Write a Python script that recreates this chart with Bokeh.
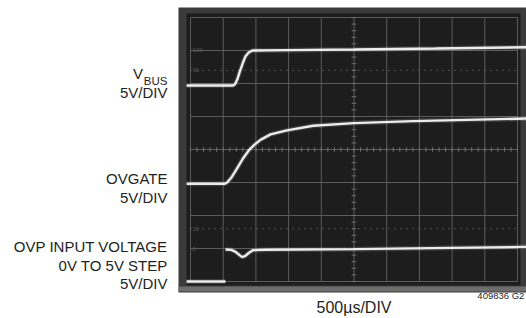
import numpy as np
from bokeh.plotting import figure
from bokeh.models import Range1d, BoxAnnotation, Label
from bokeh.embed import file_html
from bokeh.resources import INLINE

# Oscilloscope traces: time in divisions (500us/DIV), level in divisions (5V/DIV)
vbus_t = [-0.12, 1.30, 1.36, 1.43, 1.52, 1.60, 1.68, 1.78, 1.90, 3.0, 5.0, 7.5, 10.3]
vbus_v = [5.94, 5.94, 5.98, 6.12, 6.40, 6.62, 6.82, 6.94, 7.00, 7.01, 7.03, 7.06, 7.10]

ovgate_t = [-0.12, 1.05, 1.12, 1.25, 1.42, 1.60, 1.78, 1.95, 2.15, 2.45, 2.95, 3.75, 5.0, 6.8, 10.3]
ovgate_v = [2.96, 2.96, 3.00, 3.15, 3.42, 3.72, 3.97, 4.14, 4.30, 4.46, 4.58, 4.72, 4.80, 4.86, 4.94]

ovp_t = [-0.12, 1.07, np.nan, 1.07, 1.25, 1.38, 1.50, 1.58, 1.68, 1.80, 1.92, 2.3, 5.0, 10.3]
ovp_v = [0.0, 0.0, np.nan, 0.97, 0.96, 0.90, 0.80, 0.74, 0.78, 0.88, 0.95, 0.96, 0.98, 1.05]

# graticule
x_divs = list(range(0, 11))
y_divs = list(range(0, 9))
marker_levels = [1.0, 1.6, 6.4, 7.0]
marker_texts = ["0", "10", "90", "100"]

FONT = "Liberation Sans"
TXT = "#231f20"
TRACE = "#ececec"
GRID = "#5c5c5c"

p = figure(width=526, height=318, output_backend="svg", toolbar_location=None,
           x_range=Range1d(-5.810, 10.275), y_range=Range1d(-1.121, 8.515),
           min_border_left=0, min_border_right=0, min_border_top=0, min_border_bottom=0)
p.xaxis.visible = False
p.yaxis.visible = False
p.grid.visible = False
p.outline_line_color = None
p.background_fill_color = "white"
p.border_fill_color = "white"

# scope bezel, screen area and lower bezel highlight
p.add_layout(BoxAnnotation(left=-0.367, top=8.30, bottom=-0.333, fill_color="#3b3b3b",
                           fill_alpha=1, line_color=None, level="image"))
p.add_layout(BoxAnnotation(left=-0.122, right=10.09, bottom=-0.12, top=8.12,
                           fill_color="#1d1d1d", fill_alpha=1, line_color=None, level="image"))
p.add_layout(BoxAnnotation(left=-0.367, top=-0.15, bottom=-0.30, fill_color="#6e6e6e",
                           fill_alpha=1, line_color=None, level="image"))

# graticule lines
p.segment(x0=x_divs, y0=y_divs[0], x1=x_divs, y1=y_divs[-1], line_color=GRID, line_width=1)
p.segment(x0=x_divs[0], y0=y_divs, x1=x_divs[-1], y1=y_divs, line_color=GRID, line_width=1)

# center-line minor ticks
ty = np.arange(0, 8.01, 0.2)
p.segment(x0=5 - 0.07, y0=ty, x1=5 + 0.07, y1=ty, line_color="#707070", line_width=1)
tx = np.arange(0, 10.01, 0.2)
p.segment(x0=tx, y0=4 - 0.07, x1=tx, y1=4 + 0.07, line_color="#707070", line_width=1)

# 10% / 90% dotted lines
p.segment(x0=[0, 0], y0=[1.6, 6.4], x1=[10, 10], y1=[1.6, 6.4],
          line_color="#808080", line_width=1, line_dash="1 5")
for lv, tt in zip(marker_levels, marker_texts):
    p.add_layout(Label(x=0.06, y=lv, text=tt, text_font=FONT, text_font_size="6px",
                       text_color="#5a5a5a", text_baseline="middle", text_align="left"))

# traces with slight glow
for t, v in ((vbus_t, vbus_v), (ovgate_t, ovgate_v), (ovp_t, ovp_v)):
    p.line(t, v, line_color=TRACE, line_width=5, line_alpha=0.15)
    p.line(t, v, line_color=TRACE, line_width=2.4)

# channel labels
def lab(x, y, text, size="15px", align="right"):
    p.add_layout(Label(x=x, y=y, text=text, text_font=FONT, text_font_size=size,
                       text_color=TXT, text_align=align, text_baseline="alphabetic"))

lab(-1.453, 6.303, "V")
lab(-0.703, 6.09, "BUS", size="11.5px")
lab(-0.703, 5.727, "5V/DIV")
lab(-0.703, 3.121, "OVGATE")
lab(-0.703, 2.545, "5V/DIV")
lab(-0.703, 1.061, "OVP INPUT VOLTAGE")
lab(-0.703, 0.50, "0V TO 5V STEP")
lab(-0.703, -0.061, "5V/DIV")
lab(5.0, -0.80, "500µs/DIV", size="16px", align="center")
lab(10.21, -0.43, "409836 G2", size="9.5px")

open("out.html", "w").write(file_html(p, INLINE))
